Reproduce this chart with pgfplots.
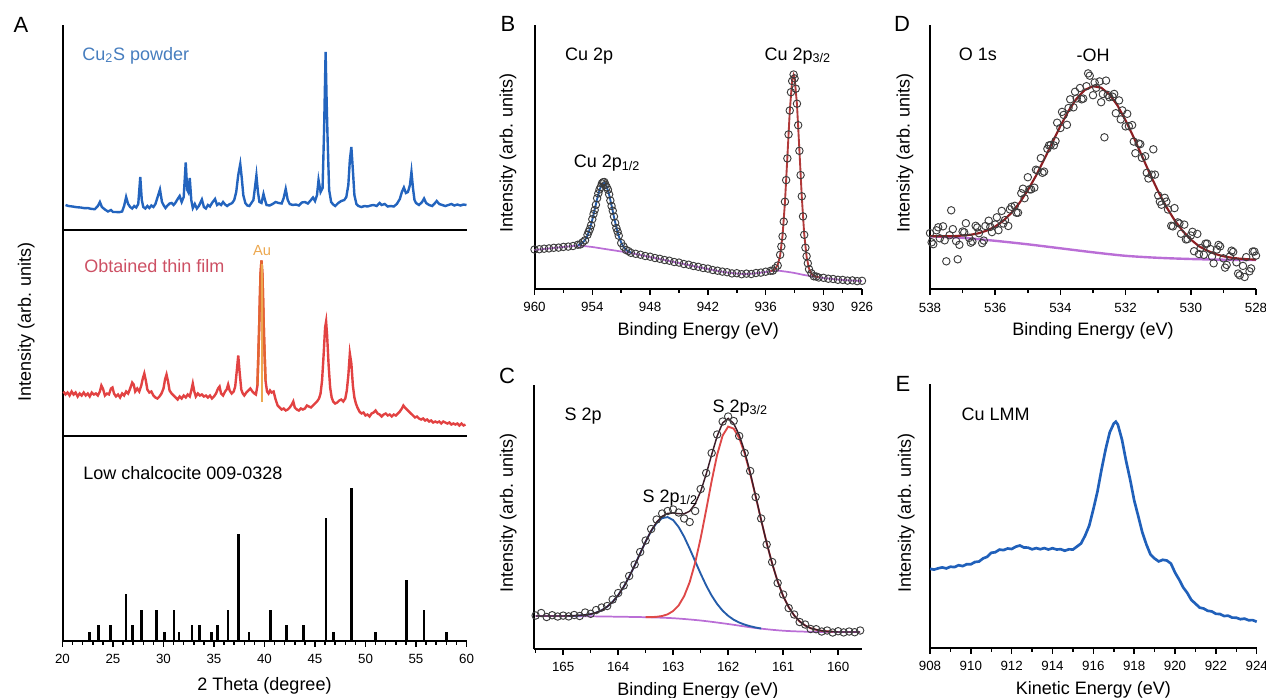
\documentclass[border=0pt]{standalone}
\usepackage{fontspec}
\setmainfont{Liberation Sans}
\usepackage{pgfplots}
\pgfplotsset{compat=1.18}

\definecolor{xrdblue}{RGB}{35,100,190}
\definecolor{xrdbluetxt}{RGB}{70,125,190}
\definecolor{xrdred}{RGB}{226,66,66}
\definecolor{xrdredtxt}{RGB}{205,80,100}
\definecolor{aupeak}{RGB}{228,100,50}
\definecolor{auline}{RGB}{236,168,80}
\definecolor{fitblue}{RGB}{36,92,170}
\definecolor{fitred}{RGB}{222,72,72}
\definecolor{fitdark}{RGB}{60,28,40}
\definecolor{bgpurple}{RGB}{186,110,214}
\definecolor{ohred}{RGB}{140,30,34}
\definecolor{lmmblue}{RGB}{32,96,186}
\definecolor{circ}{RGB}{60,60,60}

\newcommand\ann{\fontsize{13.5}{16}\selectfont}
\newcommand\letterfont{\fontsize{16.5}{19}\selectfont}

\pgfplotsset{
  panel/.style={
    scale only axis, clip=false, anchor=south west,
    axis x line*=bottom, axis y line*=left,
    axis line style={line width=1.5pt},
    ytick=\empty, ymin=0,
    tick align=outside,
    major tick length=4.2pt, minor tick length=2.8pt,
    tick style={line width=1.1pt, black},
    tick label style={font=\fontsize{10}{12}\selectfont},
    xticklabel style={yshift=-2.5pt},
    xlabel style={yshift=-0.8pt},
    /pgf/number format/assume math mode=true,
    label style={font=\fontsize{13.5}{16}\selectfont},
  },
  dots/.style={only marks, mark=o, mark size=2.8pt, mark options={draw=circ, line width=0.7pt}},
}

\begin{document}
\begin{tikzpicture}
\path[use as bounding box] (0,0) rectangle (949.5pt,-522.75pt);

% ---------- A: top, Cu2S powder
\begin{axis}[panel, at={(46.875pt,-172.5pt)}, width=303pt, height=153.75pt,
  xmin=20, xmax=60, ymax=205, xtick=\empty]
\addplot[xrdblue, line width=1.8pt] coordinates {
(20.3,25.0)(20.6,24.0)(21.0,23.5)(21.4,22.8)(21.8,22.5)(22.2,21.8)(22.5,22.0)(22.8,21.2)
(23.2,20.8)(23.5,24.0)(23.7,28.0)(23.9,23.0)(24.2,20.5)(24.5,18.5)(24.8,20.0)(25.0,18.0)
(25.3,18.0)(25.6,17.8)(25.9,18.5)(26.1,24.0)(26.3,33.0)(26.5,26.0)(26.7,23.0)(26.9,21.5)
(27.1,24.0)(27.3,22.5)(27.5,26.0)(27.7,53.0)(27.85,30.0)(28.0,23.0)(28.2,21.5)(28.4,24.0)
(28.6,22.0)(28.8,24.5)(29.0,23.0)(29.2,26.0)(29.45,34.0)(29.65,40.5)(29.85,28.0)(30.0,25.0)
(30.2,22.0)(30.4,24.5)(30.6,26.5)(30.8,27.0)(31.0,25.0)(31.2,27.5)(31.4,31.0)(31.6,34.0)
(31.8,28.0)(32.0,33.0)(32.2,67.5)(32.35,40.0)(32.45,38.0)(32.6,52.0)(32.75,30.0)(32.9,22.0)
(33.1,26.0)(33.3,21.5)(33.5,24.0)(33.8,30.5)(34.0,23.0)(34.2,21.5)(34.4,25.0)(34.6,23.5)
(34.8,27.0)(35.1,31.0)(35.3,25.0)(35.5,26.5)(35.7,25.0)(35.9,28.0)(36.1,25.5)(36.3,24.0)
(36.5,25.5)(36.8,27.0)(37.0,30.0)(37.2,38.0)(37.4,55.0)(37.6,66.0)(37.75,52.0)(37.9,35.0)
(38.1,27.0)(38.3,24.5)(38.5,24.0)(38.7,27.0)(38.9,30.0)(39.05,42.0)(39.2,54.5)(39.35,38.0)
(39.5,28.0)(39.7,27.0)(39.9,36.0)(40.05,30.0)(40.2,25.0)(40.5,24.5)(40.8,26.0)(41.1,28.0)
(41.4,27.0)(41.7,26.5)(41.9,32.0)(42.1,41.0)(42.3,30.0)(42.5,26.0)(42.8,25.0)(43.1,25.5)
(43.4,24.5)(43.7,27.5)(44.0,28.0)(44.3,26.5)(44.6,30.0)(44.8,32.5)(45.0,29.0)(45.2,35.0)
(45.35,50.0)(45.55,38.0)(45.75,42.0)(45.9,100.0)(46.05,178.0)(46.15,130.0)(46.25,90.0)
(46.4,40.0)(46.6,28.0)(46.8,25.5)(47.0,24.0)(47.3,27.0)(47.6,29.0)(47.9,30.0)(48.1,33.0)
(48.3,45.0)(48.45,70.0)(48.6,83.0)(48.75,60.0)(48.9,35.0)(49.1,26.0)(49.3,24.0)(49.6,23.0)
(49.9,24.0)(50.2,23.5)(50.5,24.5)(50.8,25.0)(51.1,24.0)(51.4,27.0)(51.6,25.0)(51.9,26.0)
(52.2,23.5)(52.5,24.0)(52.8,23.5)(53.1,26.0)(53.4,31.0)(53.6,38.0)(53.8,42.5)(54.0,37.0)
(54.2,38.0)(54.4,45.0)(54.55,58.0)(54.7,42.0)(54.85,30.0)(55.0,27.0)(55.3,25.0)(55.6,28.0)
(55.8,31.5)(56.0,27.0)(56.3,25.0)(56.6,24.0)(56.8,26.0)(57.05,29.0)(57.3,26.0)(57.6,25.0)
(57.9,24.0)(58.2,25.0)(58.5,26.0)(58.8,24.5)(59.1,25.5)(59.4,24.5)(59.7,25.5)(60.0,25.0)
};
\node[anchor=base west, font=\ann, text=xrdbluetxt] at (axis cs:21.5,170) {Cu\textsubscript{2}S powder};
\end{axis}

% ---------- A: middle, thin film
\begin{axis}[panel, at={(46.875pt,-326.625pt)}, width=303pt, height=154.125pt,
  xmin=20, xmax=60, ymax=205.5, xtick=\empty,
  ylabel={Intensity (arb. units)},
  ylabel style={at={(axis description cs:-0.09,0.552)}, anchor=center}]
\addplot[xrdred, line width=1.8pt] coordinates {
(20.1,44)(20.3,41)(20.5,43)(20.7,40)(20.9,44)(21.1,41)(21.3,43)(21.5,39)(21.7,42)(21.9,40)
(22.1,43)(22.3,40)(22.5,42)(22.7,39)(22.9,43)(23.1,41)(23.3,42)(23.5,40)(23.7,44)(23.85,50)
(24.0,47)(24.2,40)(24.4,42)(24.6,41)(24.8,47)(24.95,48)(25.1,42)(25.3,39)(25.5,41)(25.7,38)
(25.9,42)(26.1,40)(26.3,44)(26.5,42)(26.7,47)(26.9,53)(27.05,51)(27.2,44)(27.4,47)(27.6,44)
(27.8,50)(27.95,57)(28.1,62)(28.25,55)(28.4,46)(28.6,43)(28.8,44)(29.0,40)(29.2,38)(29.4,37)
(29.6,39)(29.8,42)(30.0,47)(30.15,56)(30.3,61)(30.45,54)(30.6,45)(30.8,42)(31.0,40)(31.2,38)
(31.4,36)(31.6,39)(31.8,37)(32.0,40)(32.2,38)(32.4,41)(32.6,39)(32.75,45)(32.9,52)(33.05,44)
(33.2,39)(33.4,42)(33.6,40)(33.8,41)(34.0,39)(34.2,40)(34.4,38)(34.6,40)(34.8,37)(35.0,39)
(35.2,42)(35.4,47)(35.55,49)(35.7,42)(35.9,40)(36.1,44)(36.25,46)(36.4,51)(36.55,45)(36.75,42)
(36.95,44)(37.1,49)(37.25,64)(37.4,80)(37.55,62)(37.7,46)(37.85,42)(38.0,40)(38.2,43)(38.4,45)
(38.6,47)(38.8,44)(39.0,42)(39.15,41)(39.3,50)(39.45,100)(39.6,160)(39.7,175)(39.8,160)
(39.95,100)(40.1,55)(40.25,44)(40.4,42)(40.55,45)(40.7,43)(40.9,44)(41.1,36)(41.3,30)(41.5,28)
(41.7,26)(41.9,27)(42.1,25)(42.3,26)(42.5,28)(42.7,31)(42.85,34)(43.0,28)(43.2,26)(43.4,25)
(43.6,27)(43.8,26)(44.0,27)(44.2,30)(44.4,29)(44.6,28)(44.8,30)(45.0,32)(45.2,34)(45.4,37)
(45.55,42)(45.7,55)(45.85,80)(46.0,108)(46.1,114)(46.2,100)(46.35,70)(46.5,48)(46.65,38)
(46.8,34)(47.0,32)(47.2,33)(47.4,35)(47.6,36)(47.8,34)(48.0,37)(48.15,45)(48.3,60)(48.45,82)
(48.6,72)(48.75,50)(48.9,38)(49.05,32)(49.2,28)(49.4,24)(49.6,22)(49.8,23)(50.0,20)(50.2,21)
(50.4,19)(50.6,22)(50.8,23)(51.0,25)(51.2,22)(51.4,21)(51.6,19)(51.8,21)(52.0,22)(52.2,20)
(52.4,21)(52.6,19)(52.8,21)(53.0,20)(53.2,22)(53.4,24)(53.6,27)(53.75,30)(53.9,28)(54.1,26)
(54.3,24)(54.5,22)(54.7,20)(54.9,18)(55.1,19)(55.3,17)(55.5,16)(55.7,17)(55.9,15)(56.1,16)
(56.3,14)(56.5,15)(56.7,13)(56.9,14)(57.1,13)(57.3,14)(57.5,12)(57.7,14)(57.9,13)(58.1,12)
(58.3,13)(58.5,11)(58.7,12)(58.9,11)(59.1,12)(59.3,10)(59.5,12)(59.7,10)(59.9,11)
};
\addplot[aupeak, line width=1.8pt] coordinates {
(39.3,50)(39.45,100)(39.6,160)(39.7,175)(39.8,160)(39.95,100)(40.1,55)};
\addplot[auline, line width=1.4pt] coordinates {(39.72,34)(39.72,172)};
\node[anchor=base west, font=\ann, text=xrdredtxt] at (axis cs:21.7,162.8) {Obtained thin film};
\node[anchor=base, font=\fontsize{11}{13}\selectfont, text=auline] at (axis cs:39.75,180.5) {Au};
\end{axis}

% ---------- A: bottom, reference pattern
\begin{axis}[panel, at={(46.875pt,-480.75pt)}, width=303pt, height=154.125pt,
  xmin=20, xmax=60, ymax=205.5,
  xtick={20,25,...,60}, minor x tick num=4,
  xlabel={2 Theta (degree)}, xlabel style={yshift=-2.5pt}]
\addplot[ycomb, black, line width=2.1pt] coordinates {
(22.65,8.7)(23.6,16)(24.77,16)(26.28,46.7)(26.95,16)(27.8,31)(29.28,31)(30.08,8.7)
(31.03,31)(31.53,8.7)(32.82,16)(33.6,16)(34.77,8.7)(35.36,16)(36.38,31)(37.43,107)
(38.46,8.7)(40.6,31)(42.19,16)(43.9,16)(46.08,122.7)(46.87,8.7)(48.62,152.7)(51.02,8.7)
(54.02,61)(55.8,31)(58.02,8.7)
};
\node[anchor=base west, font=\ann] at (axis cs:21.6,161.7) {Low chalcocite 009-0328};
\end{axis}

% ---------- B: Cu 2p
\begin{axis}[panel, at={(400.875pt,-216.75pt)}, width=245.625pt, height=198pt,
  x dir=reverse, xmin=926, xmax=960, ymax=264,
  xtick={960,954,948,942,936,930,926}, minor xtick={957,951,945,939,933,928},
  xlabel={Binding Energy (eV)}, ylabel={Intensity (arb. units)},
  ylabel style={at={(axis description cs:-0.081,0.515)}, anchor=center}]
\addplot[dots] coordinates {
(960,39.5)(959.5,39.8)(959,40.3)(958.5,40.6)(958,41.2)(957.5,41.4)(957,42.1)(956.5,42.4)
(956,43.0)(955.5,44.3)(955.25,44.5)(955,46.8)(954.75,48.7)(954.5,54.2)(954.375,57.3)
(954.25,60.0)(954.125,63.8)(954,69.8)(953.875,74.9)(953.75,79.0)(953.625,84.2)(953.5,90.8)
(953.375,95.6)(953.25,99.5)(953.125,102.0)(953,105.6)(952.875,106.8)(952.75,107.0)
(952.625,104.2)(952.5,101.8)(952.375,99.3)(952.25,94.6)(952.125,88.5)(952,83.0)
(951.875,78.3)(951.75,72.5)(951.625,66.1)(951.5,61.0)(951.375,57.4)(951.25,53.3)(951,46.0)
(950.75,42.4)(950.5,39.0)(950.25,37.9)(950,36.2)(949.5,35.2)(949,34.3)(948.5,33.0)(948,32.3)
(947.5,31.0)(947,30.2)(946.5,29.0)(946,28.3)(945.5,27.0)(945,26.4)(944.5,25.0)(944,24.3)
(943.5,23.0)(943,22.2)(942.5,21.0)(942,20.4)(941.5,19.0)(941,18.3)(940.5,17.4)(940,16.8)
(939.5,15.6)(939,15.8)(938.5,14.8)(938,15.4)(937.5,15.0)(937,16.0)(936.5,16.4)(936,17.3)
(935.5,18.2)(935.25,18.4)(935,20.8)(934.75,23.5)(934.5,34.2)(934.375,42.5)(934.25,52.6)
(934.125,67.4)(934,87.3)(933.875,108.9)(933.75,130.6)(933.625,154.6)(933.5,178.5)
(933.375,196.8)(933.25,208.0)(933.1,214.5)(933,210.6)(932.875,200.3)(932.75,185.3)
(932.625,163.8)(932.5,138.2)(932.375,113.9)(932.25,92.7)(932.125,72.6)(932,54.2)
(931.875,41.3)(931.75,32.8)(931.625,25.7)(931.5,19.8)(931.25,15.6)(931,12.7)(930.75,12.5)
(930.5,11.5)(930,11.2)(929.5,10.3)(929,10.0)(928.5,9.2)(928,9.1)(927.5,8.4)(927,8.6)
(926.5,7.9)(926,8.2)
};
\addplot[bgpurple, line width=1.3pt, smooth] coordinates {
(960,39)(956,43)(955,43)(954,42)(953,40.5)(952,39)(951,37.5)(950,36)(948,32)(946,28)
(944,24)(942,20)(940,16.5)(938,15)(936,17)(935,18.5)(934,17.5)(933,16)(932,14)(931,12.5)
(930,11)(928,9)(926,8)};
\addplot[fitblue, line width=1.4pt] coordinates {
(955.5,44.0)(955.25,44.7)(955,46.3)(954.75,49.1)(954.5,53.6)(954.25,60.3)(954,69.1)
(953.75,79.4)(953.5,90.1)(953.25,99.1)(953,104.9)(952.75,106.0)(952.5,102.2)(952.25,94.2)
(952,83.5)(951.75,72.0)(951.5,61.5)(951.25,52.9)(951,46.4)(950.75,42.0)(950.5,39.3)
(950.25,37.6)(950,36.5)};
\addplot[fitred!80!black, line width=1.4pt] coordinates {
(935.5,17.9)(935.25,18.6)(935,20.3)(934.75,24.0)(934.5,33.5)(934.25,53.3)(934,86.5)
(933.75,131.4)(933.5,177.6)(933.25,208.7)(933.1,214.2)(933,211.4)(932.75,184.4)(932.5,139.0)
(932.25,91.9)(932,55.0)(931.75,32.1)(931.5,20.4)(931.25,15.2)(931,13.1)(930.75,12.3)(930.5,11.8)};
\node[anchor=base west, font=\ann] at (axis cs:957.3,229) {Cu 2p};
\node[anchor=base west, font=\ann] at (axis cs:936.6,229) {Cu 2p\textsubscript{3/2}};
\node[anchor=base west, font=\ann] at (axis cs:956.4,121.5) {Cu 2p\textsubscript{1/2}};
\end{axis}

% ---------- C: S 2p
\begin{axis}[panel, at={(400.5pt,-486.75pt)}, width=245.85pt, height=198pt,
  x dir=reverse, xmin=159.57, xmax=165.53, ymax=264,
  xtick={160,161,...,165}, minor xtick={160.5,161.5,162.5,163.5,164.5,165.5},
  xlabel={Binding Energy (eV)}, ylabel={Intensity (arb. units)},
  ylabel style={at={(axis description cs:-0.079,0.515)}, anchor=center}]
\addplot[dots] coordinates {
(165.5,33.5)(165.4,36.0)(165.3,32.0)(165.2,33.8)(165.1,32.5)(165.0,33.4)(164.9,32.6)
(164.8,34.0)(164.7,33.0)(164.6,36.5)(164.5,35.2)(164.4,39.0)(164.3,41.5)(164.2,43.0)
(164.1,49.5)(164.0,56.0)(163.9,63.5)(163.8,73.0)(163.7,84.5)(163.6,97.0)(163.5,108.5)
(163.4,120.0)(163.3,129.5)(163.2,135.5)(163.1,138.0)(163.0,139.5)(162.9,136.5)(162.8,130.5)
(162.7,127.0)(162.6,138.0)(162.5,160.0)(162.4,176.0)(162.3,196.0)(162.2,214.5)(162.1,227.5)
(162.0,232.5)(161.9,228.0)(161.8,213.0)(161.7,196.0)(161.6,178.0)(161.5,152.0)(161.4,130.5)
(161.3,104.5)(161.2,87.0)(161.1,66.0)(161.0,54.5)(160.9,41.0)(160.8,34.5)(160.7,27.0)
(160.6,24.5)(160.5,20.0)(160.4,19.8)(160.3,17.5)(160.2,18.5)(160.1,16.5)(160.0,17.8)
(159.9,16.6)(159.8,17.5)(159.7,16.8)(159.6,18.5)
};
\addplot[bgpurple, line width=1.3pt, smooth] coordinates {
(165.5,33)(165,33)(164.5,32.7)(164,32.3)(163.5,31.8)(163,30.8)(162.5,28.5)(162,25)
(161.5,21)(161,18.3)(160.5,17.2)(160,17)(159.6,17)};
\addplot[fitblue, line width=1.4pt] coordinates {
(164.9,33.1)(164.8,33.25)(164.7,33.5)(164.6,34.1)(164.5,34.9)(164.4,36.4)(164.3,38.7)
(164.2,42.3)(164.1,47.2)(164.0,53.8)(163.9,62.1)(163.8,72.2)(163.7,83.5)(163.6,95.6)
(163.5,107.5)(163.4,118.0)(163.3,126.1)(163.2,130.9)(163.1,131.9)(163.0,128.9)(162.9,122.0)
(162.8,112.2)(162.7,100.4)(162.6,87.8)(162.5,75.3)(162.4,63.6)(162.3,53.4)(162.2,45.0)
(162.1,38.3)(162.0,33.2)(161.9,29.3)(161.8,26.5)(161.7,24.4)(161.6,22.8)(161.5,21.5)(161.4,20.5)};
\addplot[fitred, line width=1.4pt] coordinates {
(163.5,31.9)(163.4,31.9)(163.3,32.2)(163.2,33.0)(163.1,34.7)(163.0,38.0)(162.9,43.6)
(162.8,52.9)(162.7,66.8)(162.6,86.3)(162.5,110.8)(162.4,138.9)(162.3,168.0)(162.2,194.3)
(162.1,213.5)(162.0,222.4)(161.9,220.4)(161.8,211.1)(161.7,195.6)(161.6,175.5)(161.5,152.5)
(161.4,129.0)(161.3,106.1)(161.2,85.5)(161.1,67.5)(161.0,53.0)(160.9,41.9)(160.8,33.6)
(160.7,27.6)(160.6,23.5)(160.5,20.8)(160.4,19.3)(160.3,18.2)(160.2,17.7)(160.1,17.3)};
\addplot[fitdark, line width=1.1pt] coordinates {
(165.5,33.0)(165.0,33.0)(164.8,33.25)(164.6,34.1)(164.5,34.9)(164.4,36.4)(164.3,38.7)
(164.2,42.3)(164.1,47.2)(164.0,53.8)(163.9,62.1)(163.8,72.2)(163.7,83.5)(163.6,95.6)
(163.5,107.5)(163.4,118.3)(163.3,126.9)(163.2,132.7)(163.1,135.6)(163.0,136.1)(162.9,135.3)
(162.8,135.2)(162.7,137.8)(162.6,145.1)(162.5,157.6)(162.4,174.7)(162.3,194.3)(162.2,212.9)
(162.1,226.1)(162.0,230.6)(161.9,225.5)(161.8,214.2)(161.7,197.4)(161.6,176.5)(161.5,153.0)
(161.4,129.0)(161.3,106.1)(161.2,85.5)(161.1,67.5)(161.0,53.0)(160.9,41.9)(160.8,33.6)
(160.7,27.6)(160.6,23.5)(160.5,20.8)(160.4,19.3)(160.3,18.2)(160.2,17.7)(160.0,17.0)(159.6,17.0)};
\node[anchor=base west, font=\ann] at (axis cs:165.06,229) {S 2p};
\node[anchor=base west, font=\ann] at (axis cs:162.37,237) {S 2p\textsubscript{3/2}};
\node[anchor=base west, font=\ann] at (axis cs:163.64,147) {S 2p\textsubscript{1/2}};
\end{axis}

% ---------- D: O 1s
\begin{axis}[panel, at={(697.5pt,-216.975pt)}, width=244.5pt, height=198.225pt,
  x dir=reverse, xmin=528, xmax=538, ymax=264.3,
  xtick={528,530,...,538}, minor x tick num=1,
  xlabel={Binding Energy (eV)}, ylabel={Intensity (arb. units)},
  ylabel style={at={(axis description cs:-0.077,0.516)}, anchor=center}]
\addplot[dots] coordinates {
(538.0,56.2)(537.9,45.1)(537.8,59)(537.7,51)(537.6,63)(537.5,28)(537.4,54.1)(537.3,60.2)
(537.2,48.3)(537.1,44.5)(537.0,57.8)(536.9,66.1)(536.8,51.4)(536.7,47.9)(536.6,63.5)
(536.5,56.1)(536.4,46.2)(536.3,63.3)(536.2,68.6)(536.1,57.2)(536.0,64.8)(535.9,59.1)
(535.8,78.4)(535.7,69.2)(535.6,63.3)(535.5,82.5)(535.4,83.5)(535.3,76.6)(535.2,96.1)
(535.1,91.1)(535.0,112.1)(534.9,99.9)(534.8,101.6)(534.7,118.7)(534.6,131.2)(534.5,117.7)
(534.4,140.5)(534.3,144.2)(534.2,143.9)(534.1,166.6)(534.0,161.3)(533.9,174.4)(533.8,164.5)
(533.7,190)(533.6,182)(533.5,190.9)(533.4,201.3)(533.3,190.7)(533.2,203.1)(533.1,213.6)
(533.0,194.1)(532.9,201.5)(532.8,207.9)(532.7,195.3)(532.6,208.7)(532.5,192.1)(532.4,192.6)
(532.3,176.1)(532.2,188.9)(532.1,178.9)(532.0,162.9)(531.9,163.1)(531.8,164.2)(531.7,136.1)
(531.6,145.8)(531.5,131.5)(531.4,133.1)(531.3,110.8)(531.2,114.6)(531.1,114.7)(531.0,93.8)
(530.9,84.6)(530.8,91.5)(530.7,79.8)(530.6,63.5)(530.5,81.2)(530.4,66.9)(530.3,55.6)
(530.2,64.7)(530.1,50.2)(530.0,53.8)(529.9,38.1)(529.8,55.4)(529.7,41.2)(529.6,34.5)
(529.5,45.7)(529.4,40.3)(529.3,26.0)(529.2,39.8)(529.1,42.9)(529.0,31.0)(528.9,24.4)
(528.8,32.9)(528.7,37.4)(528.6,27.0)(528.5,14)(528.4,23.4)(528.3,32.2)(528.2,18)(528.1,37.8)
(528.0,33.7)
(537.95,47)(537.75,62)(537.55,49)(537.35,79)(537.15,30)(536.95,57)(536.75,46.6)(536.55,61.8)
(536.35,48.75)(536.15,62.4)(535.95,72)(535.75,65.8)(535.55,79.9)(535.35,76.6)(535.15,100.6)
(534.95,100)(534.75,119.6)(534.55,116.5)(534.35,143.9)(534.15,148.3)(533.95,177.4)
(533.75,181.3)(533.55,197.5)(533.35,190)(533.15,215.9)(532.95,206.8)(532.75,187.1)
(532.65,152)(532.55,194.4)(532.35,195.4)(532.15,169.9)(531.95,175.5)(531.75,147.7)
(531.55,145.2)(531.35,116.5)(531.15,140)(530.95,87.7)(530.75,87.7)(530.55,62.9)(530.35,65.8)
(530.15,49.9)(529.95,57.5)(529.75,35.3)(529.55,45.6)(529.35,32.7)(529.15,44.4)(528.95,21.7)
(528.75,38.65)(528.55,15.8)(528.35,12.3)(528.15,20.9)(528.05,37.75)
};
\addplot[bgpurple, line width=1.8pt, smooth] coordinates {
(538,53)(537,51.5)(536,48.5)(535,45)(534,41)(533,37)(532,33.5)(531,31.5)(530,30.3)
(529,29.6)(528,29.3)};
\addplot[ohred, line width=1.6pt] coordinates {
(538,53.2)(537.75,53.0)(537.5,53.05)(537.25,53.2)(537,53.8)(536.75,54.6)(536.5,56.1)
(536.25,58.8)(536,62.8)(535.75,68.6)(535.5,76.5)(535.25,86.6)(535,99.1)(534.75,113.5)
(534.5,129.7)(534.25,146.6)(534,163.3)(533.75,178.5)(533.5,190.9)(533.25,199.4)(533,203.1)
(532.75,201.6)(532.5,195.1)(532.25,183.9)(532,168.9)(531.75,151.8)(531.5,133.5)(531.25,115.1)
(531,97.8)(530.75,82.4)(530.5,69.2)(530.25,58.4)(530,49.8)(529.75,43.1)(529.5,38.7)
(529.25,35.3)(529,33.0)(528.75,31.6)(528.5,30.65)(528.25,30.05)(528,29.7)};
\node[anchor=base west, font=\ann] at (axis cs:537.26,229.3) {O 1s};
\node[anchor=base, font=\ann] at (axis cs:533.0,228.3) {-OH};
\end{axis}

% ---------- E: Cu LMM
\begin{axis}[panel, at={(697.5pt,-486pt)}, width=245.025pt, height=198pt,
  xmin=908, xmax=924, ymax=264,
  xtick={908,910,...,924}, minor x tick num=1,
  xlabel={Kinetic Energy (eV)}, ylabel={Intensity (arb. units)},
  ylabel style={at={(axis description cs:-0.073,0.511)}, anchor=center}]
\addplot[lmmblue, line width=2pt] coordinates {
(908.0,79.2)(908.2,78.4)(908.4,79.7)(908.6,80.6)(908.8,79.6)(909.0,81.3)(909.2,80.9)
(909.4,82.8)(909.6,81.9)(909.8,83.8)(910.0,83.7)(910.2,86.0)(910.4,86.5)(910.6,89.6)
(910.8,91.2)(911.0,95.2)(911.2,95.8)(911.4,98.4)(911.6,97.9)(911.8,99.5)(912.0,99.0)
(912.2,101.3)(912.4,102.5)(912.6,100.5)(912.8,100.4)(913.0,98.7)(913.2,99.9)(913.4,98.8)
(913.6,99.9)(913.8,98.5)(914.0,99.8)(914.2,98.5)(914.4,98.8)(914.6,97.3)(914.8,98.7)
(915.0,98.5)(915.2,101.5)(915.4,104.6)(915.6,112.6)(915.8,122.5)(916.0,138.8)(916.2,156.4)
(916.4,178.5)(916.6,198.6)(916.8,215.6)(917.0,224.5)(917.1,226.3)(917.2,223.4)(917.4,208.5)
(917.6,187.3)(917.8,168.6)(918.0,147.6)(918.2,131.7)(918.4,115.5)(918.6,103.4)(918.8,93.4)
(919.0,89.5)(919.2,86.6)(919.4,88.2)(919.6,87.5)(919.8,84.4)(920.0,75.4)(920.2,68.5)
(920.4,60.6)(920.6,55.1)(920.8,48.0)(921.0,44.4)(921.2,40.4)(921.4,39.5)(921.6,37.2)
(921.8,36.6)(922.0,34.2)(922.2,34.0)(922.4,32.0)(922.6,32.3)(922.8,30.4)(923.0,30.3)
(923.2,28.8)(923.4,29.4)(923.6,27.8)(923.8,27.9)(924.0,26.3)
};
\node[anchor=base west, font=\ann] at (axis cs:909.32,228) {Cu LMM};
\end{axis}

% panel letters
\node[font=\letterfont] at (15.75pt,-18.75pt) {A};
\node[font=\letterfont] at (381pt,-18pt) {B};
\node[font=\letterfont] at (380.25pt,-282pt) {C};
\node[font=\letterfont] at (676.5pt,-18pt) {D};
\node[font=\letterfont] at (677.25pt,-288pt) {E};
\end{tikzpicture}
\end{document}
